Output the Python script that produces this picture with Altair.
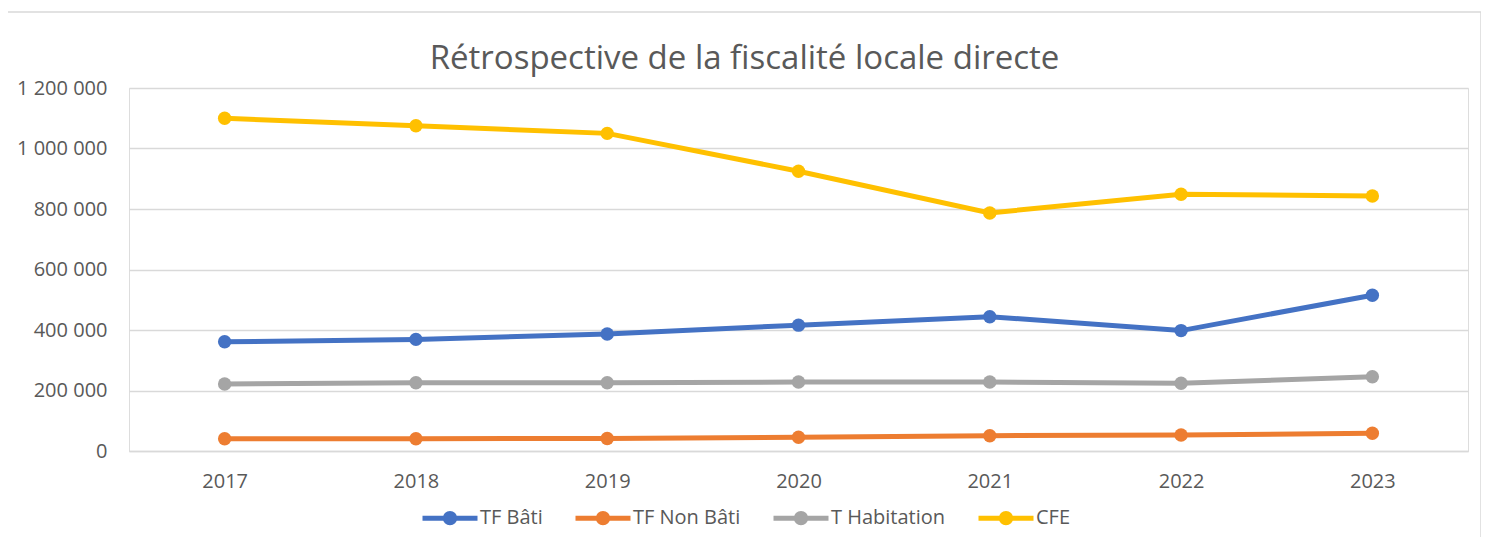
import altair as alt
import pandas as pd

years = ["2017", "2018", "2019", "2020", "2021", "2022", "2023"]
series = ["TF Bâti", "TF Non Bâti", "T Habitation", "CFE"]
tf_bati = [361000, 369000, 387000, 416000, 444000, 398000, 515000]
tf_non_bati = [40500, 40700, 41500, 45300, 50500, 53000, 58500]
t_habitation = [221500, 225800, 225800, 228000, 228000, 223800, 245600]
cfe = [1100000, 1075000, 1050000, 925000, 787000, 849000, 843000]
colors = ["#4472C4", "#ED7D31", "#A5A5A5", "#FFC000"]
y_ticks = [0, 200000, 400000, 600000, 800000, 1000000, 1200000]
title_text = "Rétrospective de la fiscalité locale directe"

rows = []
for name, vals in zip(series, [tf_bati, tf_non_bati, t_habitation, cfe]):
    for yr, v in zip(years, vals):
        rows.append({"Année": yr, "Série": name, "Valeur": v})
df = pd.DataFrame(rows)

FONT = "Open Sans"
TXT = "#595959"
GRID = "#D9D9D9"

legend_symbol = "M-1,0L1,0M-0.17,0A0.17,0.17 0 1,1 0.17,0A0.17,0.17 0 1,1 -0.17,0Z"

lines = alt.Chart(df).mark_line(
    strokeWidth=5,
    point=alt.OverlayMarkDef(size=180, filled=True, opacity=1),
).encode(
    x=alt.X("Année:O", sort=years,
            scale=alt.Scale(type="point", padding=0.5),
            axis=alt.Axis(title=None, labelAngle=0, ticks=False, domain=True,
                          domainColor=GRID, domainWidth=1.5, grid=False,
                          labelFont=FONT, labelFontSize=20, labelColor=TXT,
                          labelPadding=20)),
    y=alt.Y("Valeur:Q",
            scale=alt.Scale(domain=[0, 1200000], nice=False),
            axis=alt.Axis(title=None, values=y_ticks, ticks=False, domain=False,
                          grid=True, gridColor=GRID, gridWidth=1.5,
                          labelFont=FONT, labelFontSize=20, labelColor=TXT,
                          labelPadding=22,
                          labelExpr="replace(replace(format(datum.value, ','), ',', ' '), ',', ' ')")),
    color=alt.Color("Série:N",
                    scale=alt.Scale(domain=series, range=colors),
                    sort=series,
                    legend=alt.Legend(title=None, orient="none", direction="horizontal",
                                      legendX=291, legendY=400,
                                      symbolType=legend_symbol, symbolSize=3025,
                                      symbolStrokeWidth=5, symbolFillColor=None,
                                      labelFont=FONT, labelFontSize=20, labelColor=TXT,
                                      labelOffset=0, columnPadding=22)),
    order=alt.Order("Série:N"),
)

one_row = pd.DataFrame({"t": [title_text]})

frame = alt.Chart(one_row).mark_rect(fill="white", fillOpacity=0, stroke=GRID,
                                      strokeWidth=1.5, clip=False).encode(
    x=alt.value(-122.5), x2=alt.value(1352), y=alt.value(-76), y2=alt.value(480)
)

title = alt.Chart(one_row).mark_text(font=FONT, fontSize=33, color=TXT,
                                      align="center", baseline="alphabetic").encode(
    text="t:N", x=alt.value(615.5), y=alt.value(-19)
)

chart = alt.layer(frame, title, lines).properties(
    width=1339,
    height=363,
    autosize=alt.AutoSizeParams(type="none"),
    padding={"left": 121, "top": 80, "right": 13, "bottom": 86},
).configure_view(stroke=None).configure(background="white")

chart.save("out.html", embed_options={"renderer": "svg", "actions": False})
